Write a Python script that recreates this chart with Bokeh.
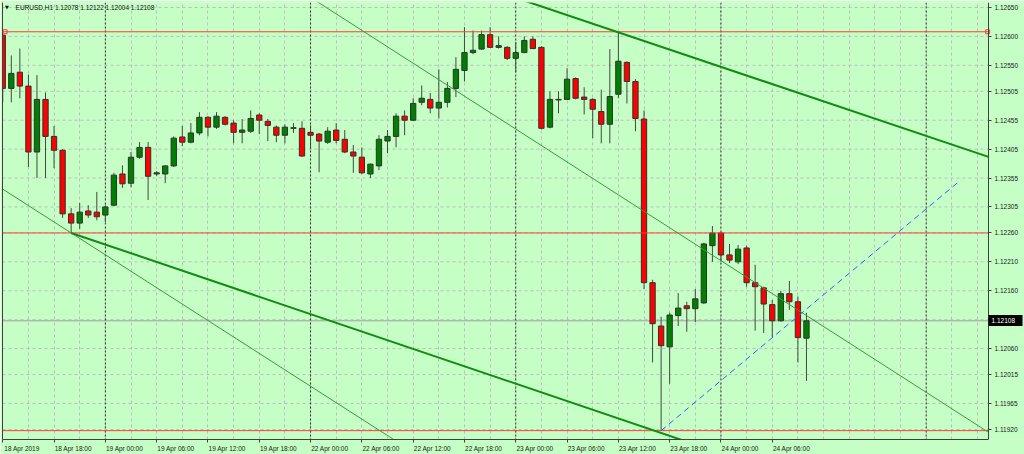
from bokeh.plotting import figure
from bokeh.models import (ColumnDataSource, FixedTicker, Range1d, Span, Label,
                          PrintfTickFormatter, LinearAxis)
from bokeh.embed import file_html
from bokeh.resources import INLINE

# ---------------- data ----------------
chart_title = "EURUSD,H1  1.12078 1.12122 1.12004 1.12108"

opens = [1.12602, 1.12510, 1.12538, 1.12514, 1.12400, 1.12491, 1.12427, 1.12403, 1.12293, 1.12277,
         1.12298, 1.12296, 1.12291, 1.12308, 1.12362, 1.12346, 1.12391, 1.12408, 1.12362, 1.12362,
         1.12376, 1.12426, 1.12417, 1.12433, 1.12460, 1.12443, 1.12460, 1.12450, 1.12434, 1.12436,
         1.12464, 1.12453, 1.12443, 1.12429, 1.12441, 1.12441, 1.12434, 1.12431, 1.12417, 1.12438,
         1.12422, 1.12400, 1.12391, 1.12362, 1.12376, 1.12419, 1.12427, 1.12462, 1.12455, 1.12486,
         1.12491, 1.12476, 1.12486, 1.12510, 1.12541, 1.12572, 1.12578, 1.12603, 1.12581, 1.12581,
         1.12562, 1.12572, 1.12595, 1.12581, 1.12443, 1.12491, 1.12491, 1.12527, 1.12495, 1.12491,
         1.12470, 1.12448, 1.12500, 1.12555, 1.12522, 1.12457, 1.12174, 1.12099, 1.12063, 1.12117,
         1.12134, 1.12129, 1.12139, 1.12238, 1.12260, 1.12222, 1.12210, 1.12234, 1.12174, 1.12165,
         1.12136, 1.12108, 1.12155, 1.12141, 1.12078]
highs = [1.12605, 1.12567, 1.12579, 1.12534, 1.12533, 1.12503, 1.12445, 1.12405, 1.12303, 1.12312,
         1.12308, 1.12331, 1.12308, 1.12364, 1.12377, 1.12400, 1.12417, 1.12417, 1.12367, 1.12377,
         1.12427, 1.12445, 1.12450, 1.12469, 1.12462, 1.12469, 1.12462, 1.12455, 1.12457, 1.12472,
         1.12467, 1.12457, 1.12446, 1.12448, 1.12450, 1.12453, 1.12446, 1.12433, 1.12443, 1.12450,
         1.12438, 1.12412, 1.12408, 1.12380, 1.12429, 1.12438, 1.12467, 1.12472, 1.12493, 1.12515,
         1.12502, 1.12543, 1.12521, 1.12564, 1.12616, 1.12610, 1.12610, 1.12616, 1.12600, 1.12583,
         1.12590, 1.12600, 1.12600, 1.12583, 1.12505, 1.12505, 1.12545, 1.12529, 1.12512, 1.12493,
         1.12508, 1.12578, 1.12607, 1.12557, 1.12526, 1.12472, 1.12179, 1.12115, 1.12122, 1.12156,
         1.12141, 1.12163, 1.12243, 1.12272, 1.12262, 1.12241, 1.12239, 1.12238, 1.12205, 1.12167,
         1.12144, 1.12160, 1.12177, 1.12150, 1.12122]
lows = [1.12486, 1.12486, 1.12493, 1.12374, 1.12355, 1.12355, 1.12372, 1.12286, 1.12260, 1.12267,
        1.12286, 1.12282, 1.12279, 1.12306, 1.12338, 1.12339, 1.12388, 1.12317, 1.12358, 1.12346,
        1.12374, 1.12410, 1.12415, 1.12429, 1.12427, 1.12440, 1.12446, 1.12415, 1.12415, 1.12433,
        1.12431, 1.12419, 1.12417, 1.12415, 1.12433, 1.12392, 1.12405, 1.12365, 1.12414, 1.12415,
        1.12398, 1.12364, 1.12362, 1.12355, 1.12369, 1.12398, 1.12408, 1.12429, 1.12454, 1.12481,
        1.12467, 1.12458, 1.12477, 1.12495, 1.12522, 1.12569, 1.12577, 1.12580, 1.12579, 1.12559,
        1.12538, 1.12571, 1.12578, 1.12439, 1.12441, 1.12467, 1.12490, 1.12491, 1.12465, 1.12424,
        1.12415, 1.12415, 1.12493, 1.12484, 1.12436, 1.12163, 1.12036, 1.11918, 1.11999, 1.12099,
        1.12089, 1.12106, 1.12137, 1.12210, 1.12210, 1.12208, 1.12206, 1.12167, 1.12091, 1.12087,
        1.12080, 1.12107, 1.12127, 1.12036, 1.12004]
closes = [1.12510, 1.12536, 1.12514, 1.12400, 1.12491, 1.12427, 1.12403, 1.12293, 1.12277, 1.12296,
          1.12291, 1.12288, 1.12305, 1.12360, 1.12345, 1.12391, 1.12408, 1.12358, 1.12364, 1.12376,
          1.12424, 1.12417, 1.12433, 1.12460, 1.12443, 1.12462, 1.12448, 1.12434, 1.12438, 1.12458,
          1.12455, 1.12446, 1.12429, 1.12443, 1.12442, 1.12393, 1.12429, 1.12419, 1.12436, 1.12420,
          1.12400, 1.12393, 1.12364, 1.12379, 1.12422, 1.12427, 1.12462, 1.12455, 1.12484, 1.12493,
          1.12476, 1.12486, 1.12510, 1.12543, 1.12572, 1.12576, 1.12603, 1.12581, 1.12584, 1.12562,
          1.12572, 1.12593, 1.12579, 1.12441, 1.12491, 1.12490, 1.12526, 1.12493, 1.12491, 1.12474,
          1.12448, 1.12496, 1.12557, 1.12522, 1.12458, 1.12174, 1.12103, 1.12065, 1.12118, 1.12130,
          1.12129, 1.12146, 1.12241, 1.12260, 1.12222, 1.12213, 1.12232, 1.12174, 1.12167, 1.12137,
          1.12108, 1.12155, 1.12141, 1.12079, 1.12108]

time_tick_bars = [0, 6, 12, 18, 24, 30, 36, 42, 48, 54, 60, 66, 72, 78, 84, 90]
time_labels = ["18 Apr 2019", "18 Apr 18:00", "19 Apr 00:00", "19 Apr 06:00", "19 Apr 12:00",
               "19 Apr 18:00", "22 Apr 00:00", "22 Apr 06:00", "22 Apr 12:00", "22 Apr 18:00",
               "23 Apr 00:00", "23 Apr 06:00", "23 Apr 12:00", "23 Apr 18:00", "24 Apr 00:00",
               "24 Apr 06:00"]
price_ticks = [1.12650, 1.12600, 1.12550, 1.12505, 1.12455, 1.12405, 1.12355, 1.12305,
               1.12260, 1.12210, 1.12160, 1.12060, 1.12015, 1.11965, 1.11920]
hidden_grid_price = [1.12110]
bid_price = 1.12108
red_levels = [1.12608, 1.12260, 1.11918]
separator_bars = [12, 36, 60, 84, 108]
grid_bars = list(range(0, 117, 3))

# trendline anchors (bar index, price)
thick_lower = [(8, 1.12260), (75.8, 1.11920)]
thick_upper = [(72, 1.12607), (115.4, 1.12391)]
thin_lower = [(8, 1.12260), (44.0, 1.11919)]
thin_upper = [(40.15, 1.12628), (95.7, 1.12101)]
blue_line = [(77, 1.11918), (112.0, 1.12351)]

# ---------------- styling ----------------
BG = "#c5ffc5"
BULL = "#008000"
BEAR = "#ff0000"
BORDER = "#404040"
FONT = "Liberation Sans"
FS = "6.5px"
X0, X1 = -0.03, 115.29          # visible bar span of the chart area
CHART_W, SCALE_W = 986, 36      # chart area / price scale widths (px)
XR = X1 + SCALE_W * (X1 - X0) / CHART_W
Y0, Y1 = 1.119027, 1.126586
TAG_LEN = 34                    # px length of the current-price tag

p = figure(width=1024, height=454, output_backend="svg", toolbar_location=None,
           x_range=Range1d(X0, XR), y_range=Range1d(Y0, Y1),
           y_axis_location=None,
           min_border_left=2, min_border_top=2, min_border_right=0, min_border_bottom=14,
           background_fill_color=BG, border_fill_color=BG,
           outline_line_color=None)

# vertical grid
p.xgrid.ticker = FixedTicker(ticks=grid_bars)
p.xgrid.grid_line_color = "#bdbdbd"
p.xgrid.grid_line_dash = "3 3"
p.ygrid.visible = False

# horizontal grid, stopping at the price scale
gy = price_ticks + hidden_grid_price
p.segment(x0=[X0] * len(gy), x1=[X1] * len(gy), y0=gy, y1=gy, line_color="#bdbdbd",
          line_dash="3 3", line_width=1, level="underlay")

# price scale pinned to the chart edge; the long minor tick is the black price tag
price_axis = LinearAxis(fixed_location=X1,
                        ticker=FixedTicker(ticks=price_ticks, minor_ticks=[bid_price]),
                        formatter=PrintfTickFormatter(format="%.5f"),
                        major_label_text_font=FONT, major_label_text_font_size=FS,
                        major_label_text_color="#202020",
                        major_tick_out=3, major_tick_in=0,
                        major_tick_line_color=BORDER,
                        minor_tick_out=TAG_LEN, minor_tick_in=0,
                        minor_tick_line_color="black", minor_tick_line_width=11,
                        major_label_standoff=6 - TAG_LEN,
                        axis_line_color=BORDER)
p.add_layout(price_axis, "right")

# left border line
left_border = LinearAxis(ticker=FixedTicker(ticks=[]), major_tick_out=0, major_tick_in=0,
                         minor_tick_out=0, minor_tick_in=0, major_label_standoff=0,
                         major_label_text_font_size="0px", axis_line_color=BORDER)
p.add_layout(left_border, "left")

# bottom time axis: labels start at the tick (minor ticks mark bar positions)
label_centers = [b + 2.25 for b in time_tick_bars]
xa = p.xaxis[0]
xa.bounds = (X0, X1)
xa.ticker = FixedTicker(ticks=label_centers, minor_ticks=time_tick_bars)
xa.major_label_overrides = {c: t for c, t in zip(label_centers, time_labels)}
xa.major_label_text_font = FONT
xa.major_label_text_font_size = FS
xa.major_label_text_color = "#202020"
xa.major_tick_out = 0
xa.major_tick_in = 0
xa.minor_tick_out = 3
xa.minor_tick_in = 0
xa.minor_tick_line_color = BORDER
xa.major_label_standoff = 2
xa.axis_line_color = BORDER

# day separators and bid line
for b in separator_bars:
    p.add_layout(Span(location=b, dimension="height", line_color="#303030",
                      line_dash="2 2", line_width=1, level="underlay"))
p.segment(x0=[X0], x1=[X1], y0=[bid_price], y1=[bid_price], line_color="#a0a0a0",
          line_width=1, level="underlay")

# candles
bars = list(range(len(opens)))
src = ColumnDataSource(dict(
    x=bars,
    high=highs, low=lows,
    top=[max(o, c) for o, c in zip(opens, closes)],
    bottom=[min(o, c) for o, c in zip(opens, closes)],
    color=[BULL if c > o else BEAR for o, c in zip(opens, closes)],
))
p.segment(x0="x", y0="high", x1="x", y1="low", source=src, line_color="#454545", line_width=1)
p.vbar(x="x", top="top", bottom="bottom", width=0.62, source=src,
       fill_color="color", line_color="#303030", line_width=1)

# horizontal red levels
n = len(red_levels)
p.segment(x0=[X0] * n, x1=[X1] * n, y0=red_levels, y1=red_levels,
          line_color="#ff3c3c", line_width=1)
p.scatter(x=[X0 + 0.3, X1 - 0.1], y=[red_levels[0]] * 2, marker="square", size=4,
          fill_color=None, line_color="#ff3c3c", line_width=1)


def extend(anchors, x_from, x_to):
    (xa_, ya_), (xb_, yb_) = anchors
    k = (yb_ - ya_) / (xb_ - xa_)
    return [x_from, x_to], [ya_ + k * (x_from - xa_), ya_ + k * (x_to - xa_)]


# trendlines (rays end at the price scale)
for anc, start, lw, col in [(thin_lower, X0 - 1, 1, "#3a9a3a"),
                            (thin_upper, X0 - 1, 1, "#3a9a3a"),
                            (thick_lower, thick_lower[0][0], 2, "#108c10"),
                            (thick_upper, X0 - 1, 2, "#108c10")]:
    xs, ys = extend(anc, start, X1)
    p.line(xs, ys, line_color=col, line_width=lw)

p.line([blue_line[0][0], blue_line[1][0]], [blue_line[0][1], blue_line[1][1]],
       line_color="#3060ff", line_width=1, line_dash="6 4")

# title
p.add_layout(Label(x=1.5, y=price_ticks[0], text=chart_title, text_font=FONT,
                   text_font_size=FS, text_color="#101010", text_baseline="middle"))
p.add_layout(Label(x=0.25, y=price_ticks[0], text="\u25bc", text_font="DejaVu Sans",
                   text_font_size="5px", text_color="#101010", text_baseline="middle"))

# current price text on the black tag
p.add_layout(Label(x=X1, y=bid_price, x_offset=3, text=f"{bid_price:.5f}", text_font=FONT,
                   text_font_size=FS, text_color="white", text_baseline="middle"))

open("out.html", "w").write(file_html(p, INLINE))
